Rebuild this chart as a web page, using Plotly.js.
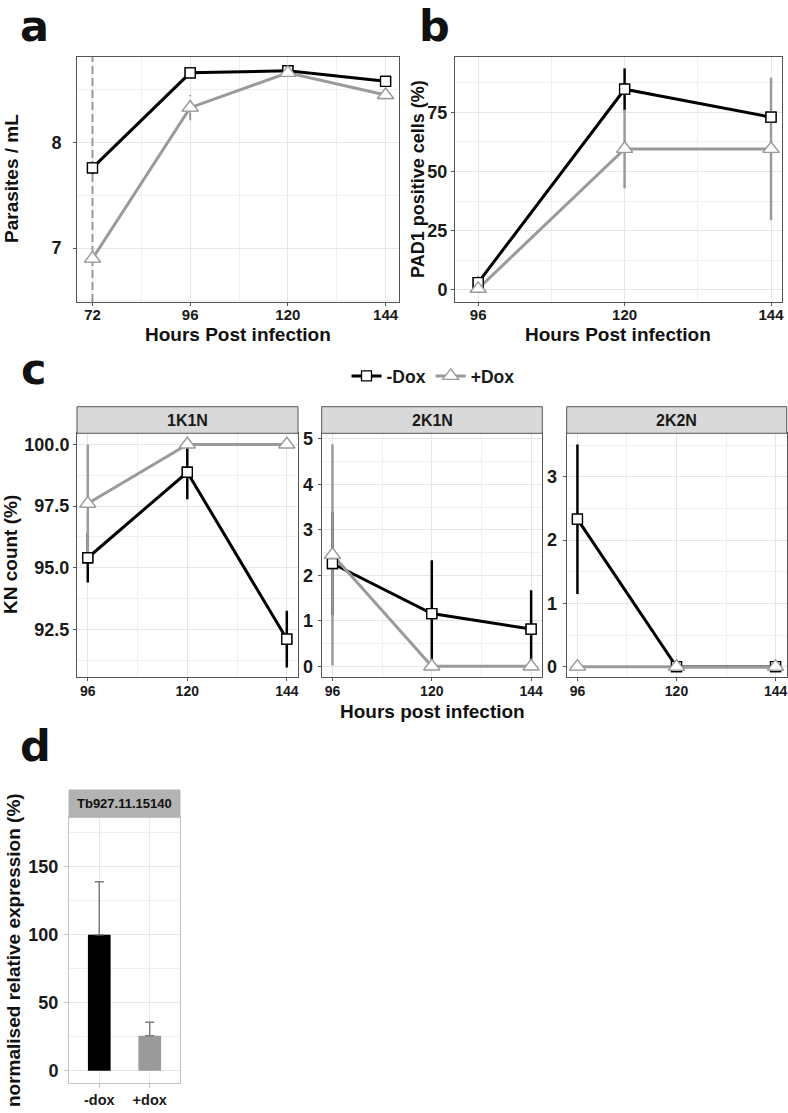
<!DOCTYPE html>
<html>
<head>
<meta charset="utf-8">
<script src="https://cdn.plot.ly/plotly-3.0.1.min.js"></script>
<style>html,body{margin:0;padding:0;background:#fff;}#chart{width:788px;height:1113px;}</style>
</head>
<body>
<div id="chart"></div>
<script>
// ---------------- DATA ----------------
const hoursA = [72, 96, 120, 144];
const aMinusDox = [7.76, 8.66, 8.68, 8.58];
const aMinusErr = [0.06, 0.02, 0.02, 0.02];
const aPlusDox = [6.9, 8.33, 8.66, 8.45];
const aPlusErr = [2.0, 0.12, 0.02, 0.03];

const hoursB = [96, 120, 144];
const bMinusDox = [3.1, 84.7, 72.9];
const bMinusErr = [2.5, 8.8, 1.0];
const bPlusDox = [0.5, 59.5, 59.5];
const bPlusErr = [0.5, 16.6, 30.1];

const hoursC = [96, 120, 144];
const facets = ['1K1N', '2K1N', '2K2N'];
const cMinusDox = {'1K1N': [95.4, 98.87, 92.1], '2K1N': [2.26, 1.16, 0.82], '2K2N': [2.33, 0, 0]};
const cMinusErr = {'1K1N': [1.0, 1.1, 1.15], '2K1N': [1.13, 1.17, 0.85], '2K2N': [1.18, 0, 0]};
const cPlusDox  = {'1K1N': [97.6, 100, 100], '2K1N': [2.45, 0, 0], '2K2N': [0, 0, 0]};
const cPlusErr  = {'1K1N': [2.4, 0, 0], '2K1N': [2.43, 0, 0], '2K2N': [0, 0, 0]};

const dCategories = ['-dox', '+dox'];
const dValues = [100, 25.7];
const dErr = [39, 9.9];
const dGene = 'Tb927.11.15140';

const seriesNames = ['-Dox', '+Dox'];

// ---------------- STYLE ----------------
const W = 788, H = 1113;
const FONT = 'Liberation Sans, Arial, Helvetica, sans-serif';
const BLACK = '#000000', GREY = '#9a9a9a';
const fx = p => p / W;
const fy = p => 1 - p / H;

function errSegments(xs, ys, es) {
  const X = [], Y = [];
  xs.forEach((x, i) => { X.push(x, x, null); Y.push(ys[i] - es[i], ys[i] + es[i], null); });
  return {x: X, y: Y};
}

const traces = [];
function addSeries(xa, ya, xs, ys, es, which, showleg, dashedErr) {
  const col = which === 0 ? BLACK : GREY;
  const sym = which === 0 ? 'square' : 'triangle-up';
  const msize = which === 0 ? 10 : 14;
  const mline = which === 0 ? BLACK : GREY;
  if (dashedErr) {
    const s = errSegments(xs, ys, es);
    traces.push({x: s.x, y: s.y, xaxis: xa, yaxis: ya, mode: 'lines', showlegend: false, hoverinfo: 'skip',
      line: {color: col, width: 2, dash: '8px,4px'}});
  }
  traces.push({
    x: xs, y: ys, xaxis: xa, yaxis: ya, mode: 'lines+markers', name: seriesNames[which],
    legendgroup: seriesNames[which], showlegend: showleg,
    line: {color: col, width: 3},
    marker: {symbol: sym, size: msize, color: '#ffffff', line: {color: mline, width: 1.3}},
    error_y: dashedErr ? {visible: false} : {type: 'data', array: es, visible: true, color: col, thickness: 2.5, width: 0},
    cliponaxis: false
  });
}
function addMarkers(xa, ya, xs, ys, which) {
  const sym = which === 0 ? 'square' : 'triangle-up';
  const msize = which === 0 ? 10 : 14;
  const mline = which === 0 ? BLACK : GREY;
  traces.push({x: xs, y: ys, xaxis: xa, yaxis: ya, mode: 'markers', showlegend: false, hoverinfo: 'skip',
    marker: {symbol: sym, size: msize, color: '#ffffff', line: {color: mline, width: 1.3}}, cliponaxis: false});
}

// Panel a
addSeries('x', 'y', hoursA, aMinusDox, aMinusErr, 0, false, true);
addSeries('x', 'y', hoursA, aPlusDox, aPlusErr, 1, false, true);
addMarkers('x', 'y', hoursA, aMinusDox, 0);
addMarkers('x', 'y', hoursA, aPlusDox, 1);
// Panel b
addSeries('x2', 'y2', hoursB, bMinusDox, bMinusErr, 0, false, false);
addSeries('x2', 'y2', hoursB, bPlusDox, bPlusErr, 1, false, false);
addMarkers('x2', 'y2', hoursB, bMinusDox, 0);
addMarkers('x2', 'y2', hoursB, bPlusDox, 1);
// Panel c
facets.forEach((f, i) => {
  const xa = 'x' + (i + 3), ya = 'y' + (i + 3);
  addSeries(xa, ya, hoursC, cMinusDox[f], cMinusErr[f], 0, i === 0, false);
  addSeries(xa, ya, hoursC, cPlusDox[f], cPlusErr[f], 1, i === 0, false);
  addMarkers(xa, ya, hoursC, cMinusDox[f], 0);
  addMarkers(xa, ya, hoursC, cPlusDox[f], 1);
});
// Panel d
traces.push({
  type: 'bar', x: dCategories, y: dValues, xaxis: 'x6', yaxis: 'y6', width: 0.45, showlegend: false,
  marker: {color: [BLACK, GREY]},
  error_y: {type: 'data', symmetric: false, array: dErr, arrayminus: [0, 0], color: '#7a7a7a', thickness: 1.5, width: 4.5}
});

// ---------------- AXES ----------------
const tickFontY = {family: FONT, size: 18, color: '#1a1a1a', weight: 700};
function xAxis(l, r, range, anchor, fsize, standoff, extra) {
  return Object.assign({
    domain: [fx(l), fx(r)], range: range, anchor: anchor,
    showline: true, mirror: true, linecolor: '#555', linewidth: 1,
    ticks: 'outside', ticklen: 3, tickcolor: '#555', ticklabelstandoff: standoff,
    tickfont: {family: FONT, size: fsize, color: '#1a1a1a', weight: 700},
    showgrid: true, gridcolor: '#e6e6e6', gridwidth: 1, zeroline: false,
    tickmode: 'linear', dtick: 24,
    minor: {showgrid: true, gridcolor: '#f0f0f0', gridwidth: 1, dtick: 12}
  }, extra || {});
}
function yAxis(t, b, range, anchor, tick0, dtick, minorD, standoff, extra) {
  return Object.assign({
    domain: [fy(b), fy(t)], range: range, anchor: anchor,
    showline: true, mirror: true, linecolor: '#555', linewidth: 1,
    ticks: 'outside', ticklen: 3, tickcolor: '#555', tickfont: tickFontY, ticklabelstandoff: standoff,
    showgrid: true, gridcolor: '#e6e6e6', gridwidth: 1, zeroline: false,
    tickmode: 'linear', tick0: tick0, dtick: dtick,
    minor: {showgrid: true, gridcolor: '#f0f0f0', gridwidth: 1, dtick: minorD, tick0: tick0}
  }, extra || {});
}

const layout = {
  width: W, height: H, margin: {l: 0, r: 0, t: 0, b: 0},
  paper_bgcolor: '#fff', plot_bgcolor: '#fff',
  font: {family: FONT, color: '#1a1a1a'},
  showlegend: true,
  legend: {orientation: 'h', x: fx(433), xanchor: 'center', y: fy(376), yanchor: 'middle',
    font: {family: FONT, size: 17.5, color: '#1a1a1a', weight: 700}, itemwidth: 30, tracegroupgap: 0, bgcolor: 'rgba(0,0,0,0)'},
  xaxis:  xAxis(77, 399, [68.2, 147.3], 'y', 15, -4, {tick0: 72}),
  yaxis:  yAxis(57, 302, [6.49, 8.81], 'x', 7, 1, 0.5, 8),
  xaxis2: xAxis(455, 782, [92.2, 145.8], 'y2', 15, -4, {tick0: 96}),
  yaxis2: yAxis(57, 302, [-5.1, 98.3], 'x2', 0, 25, 12.5, 0),
  xaxis3: xAxis(77, 298, [93.4, 146.7], 'y3', 14, -2, {tick0: 96}),
  yaxis3: yAxis(433.3, 677.3, [90.55, 100.45], 'x3', 92.5, 2.5, 1.25, 0, {tickformat: '.1f'}),
  xaxis4: xAxis(321.7, 542.3, [93.4, 146.7], 'y4', 14, -2, {tick0: 96}),
  yaxis4: yAxis(433.3, 677.3, [-0.24, 5.12], 'x4', 0, 1, 0.5, 1),
  xaxis5: xAxis(566.7, 786.7, [93.4, 146.7], 'y5', 14, -2, {tick0: 96}),
  yaxis5: yAxis(433.3, 677.3, [-0.167, 3.685], 'x5', 0, 1, 0.5, 2),
  xaxis6: {domain: [fx(69), fx(180)], anchor: 'y6', type: 'category', range: [-0.6, 1.6],
    showline: true, mirror: true, linecolor: '#c4c4c4', linewidth: 1, ticks: 'outside', ticklen: 4, tickcolor: '#c4c4c4',
    tickfont: {family: FONT, size: 14.5, color: '#1a1a1a', weight: 700},
    showgrid: true, gridcolor: '#e8e8e8', zeroline: false},
  yaxis6: yAxis(817.3, 1082.7, [-8.8, 186.3], 'x6', 0, 50, 25, 2, {linecolor: '#c4c4c4', tickcolor: '#c4c4c4', ticklen: 4}),
  shapes: [],
  annotations: []
};

// strips for panel c
const stripX = [[77, 298], [321.7, 542.3], [566.7, 786.7]];
facets.forEach((f, i) => {
  layout.shapes.push({type: 'rect', xref: 'paper', yref: 'paper', x0: fx(stripX[i][0]), x1: fx(stripX[i][1]),
    y0: fy(433.3), y1: fy(406.7), fillcolor: '#d9d9d9', line: {color: '#555', width: 1}, layer: 'above'});
  layout.annotations.push({xref: 'paper', yref: 'paper', x: fx((stripX[i][0] + stripX[i][1]) / 2), y: fy(420),
    text: f, showarrow: false, xanchor: 'center', yanchor: 'middle',
    font: {family: FONT, size: 16, color: '#1a1a1a', weight: 700}});
});
// strip for panel d
layout.shapes.push({type: 'rect', xref: 'paper', yref: 'paper', x0: fx(69), x1: fx(180),
  y0: fy(817.3), y1: fy(790), fillcolor: '#b3b3b3', line: {color: '#b3b3b3', width: 1}, layer: 'above'});
layout.annotations.push({xref: 'paper', yref: 'paper', x: fx(124.5), y: fy(803.5), text: dGene, showarrow: false,
  xanchor: 'center', yanchor: 'middle', font: {family: FONT, size: 13, color: '#111', weight: 700}});

// titles
function ann(x, y, text, size, angle, family) {
  layout.annotations.push({xref: 'paper', yref: 'paper', x: fx(x), y: fy(y), text: text, showarrow: false,
    xanchor: 'center', yanchor: 'middle', textangle: angle || 0,
    font: {family: family || FONT, size: size, color: '#111', weight: 700}});
}
ann(238, 334, 'Hours Post infection', 19);
ann(11, 179, 'Parasites / mL', 19, -90);
ann(618, 334, 'Hours Post infection', 19);
ann(418, 179, 'PAD1 positive cells (%)', 18, -90);
ann(432, 711, 'Hours post infection', 19);
ann(11, 555, 'KN count (%)', 19, -90);
ann(13, 950, 'normalised relative expression (%)', 19, -90);
// panel letters
const LFONT = 'DejaVu Sans, Liberation Sans, sans-serif';
ann(34, 26, 'a', 43, 0, LFONT);
ann(434, 26, 'b', 43, 0, LFONT);
ann(34, 369, 'c', 43, 0, LFONT);
ann(35, 746, 'd', 43, 0, LFONT);

Plotly.newPlot('chart', traces, layout, {staticPlot: true, displayModeBar: false});
</script>
</body>
</html>
